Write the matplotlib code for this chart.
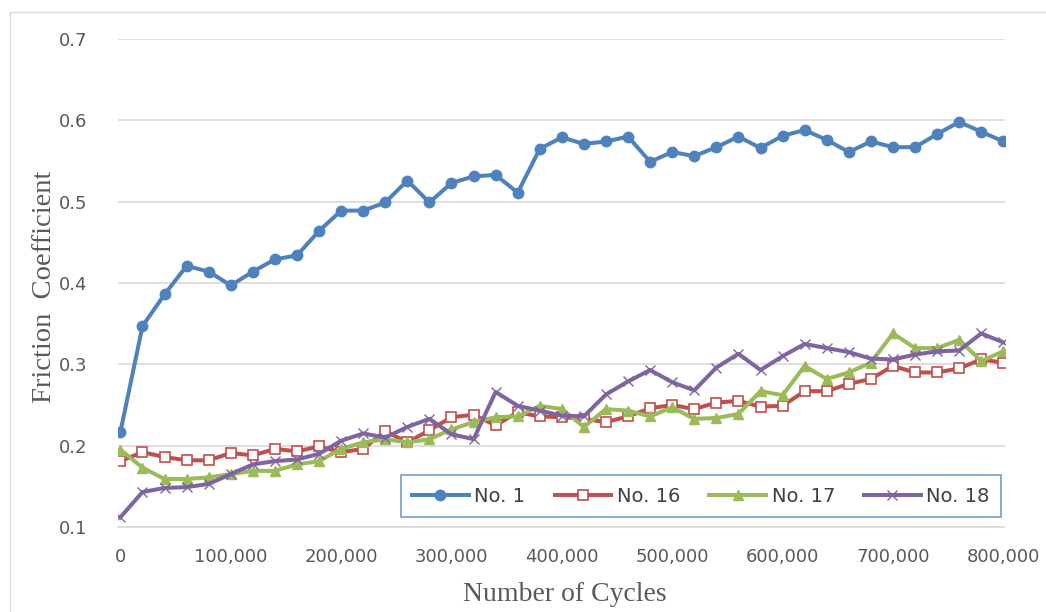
import numpy as np
import matplotlib
matplotlib.use('Agg')
import matplotlib.pyplot as plt
from matplotlib.patches import Rectangle

# Dane (co 20 000 cykli)
cycles = np.arange(0, 800001, 20000)

no1 = [0.217, 0.347, 0.386, 0.421, 0.414, 0.397, 0.414, 0.429, 0.434, 0.464,
       0.489, 0.489, 0.499, 0.526, 0.499, 0.523, 0.531, 0.533, 0.511, 0.565,
       0.579, 0.571, 0.574, 0.580, 0.549, 0.561, 0.556, 0.567, 0.580, 0.566,
       0.581, 0.588, 0.576, 0.561, 0.574, 0.567, 0.567, 0.583, 0.598, 0.586,
       0.574]
no16 = [0.181, 0.192, 0.186, 0.182, 0.182, 0.191, 0.188, 0.196, 0.193, 0.199,
        0.192, 0.196, 0.218, 0.204, 0.219, 0.235, 0.238, 0.225, 0.241, 0.236,
        0.235, 0.233, 0.229, 0.236, 0.246, 0.250, 0.245, 0.253, 0.255, 0.248,
        0.249, 0.267, 0.267, 0.276, 0.282, 0.298, 0.290, 0.290, 0.295, 0.306,
        0.302]
no17 = [0.195, 0.173, 0.159, 0.159, 0.161, 0.165, 0.169, 0.169, 0.177, 0.181,
        0.196, 0.204, 0.208, 0.204, 0.208, 0.220, 0.229, 0.235, 0.236, 0.249,
        0.245, 0.223, 0.245, 0.243, 0.236, 0.247, 0.233, 0.234, 0.239, 0.267,
        0.262, 0.298, 0.282, 0.290, 0.302, 0.338, 0.320, 0.320, 0.330, 0.304,
        0.316]
no18 = [0.112, 0.143, 0.148, 0.149, 0.153, 0.165, 0.177, 0.181, 0.183, 0.190,
        0.206, 0.215, 0.210, 0.223, 0.233, 0.214, 0.208, 0.266, 0.249, 0.243,
        0.237, 0.236, 0.263, 0.279, 0.293, 0.278, 0.268, 0.296, 0.313, 0.293,
        0.310, 0.325, 0.320, 0.315, 0.307, 0.306, 0.312, 0.316, 0.317, 0.338,
        0.327]

series_labels = ['No. 1', 'No. 16', 'No. 17', 'No. 18']
x_ticks = np.arange(0, 800001, 100000)
y_ticks = [0.1, 0.2, 0.3, 0.4, 0.5, 0.6, 0.7]

W, H = 1046, 612
fig = plt.figure(figsize=(W / 100, H / 100), dpi=100)
ax = fig.add_axes([118 / W, 1 - 527 / H, 886.5 / W, 488 / H])

grey_txt = '#595959'

# Ramka wykresu (jak w Excelu)
fig.patches.append(Rectangle((10 / W, -0.1), 1.2, 1 - 12 / H + 0.1,
                             transform=fig.transFigure, fill=False,
                             edgecolor='#D9D9D9', linewidth=1))

ax.plot(cycles, no1, color='#4F81BD', linewidth=2.9, marker='o',
        markersize=7.5, label=series_labels[0])
ax.plot(cycles, no16, color='#C0504D', linewidth=2.9, marker='s',
        markersize=7, markerfacecolor='white', markeredgewidth=1.2,
        label=series_labels[1])
ax.plot(cycles, no17, color='#9BBB59', linewidth=2.9, marker='^',
        markersize=7.5, label=series_labels[2])
ax.plot(cycles, no18, color='#8064A2', linewidth=2.9, marker='x',
        markersize=7.5, markeredgewidth=1.0, label=series_labels[3])

ax.set_xlim(-2200, 801100)
ax.set_ylim(0.1, 0.7)
ax.set_xticks(x_ticks)
ax.set_xticklabels(['{:,}'.format(v) for v in x_ticks])
ax.set_yticks(y_ticks)
ax.set_yticklabels(['{:.1f}'.format(v) for v in y_ticks])
ax.tick_params(length=0, labelsize=13, labelcolor=grey_txt)
ax.tick_params(axis='x', pad=15)
ax.tick_params(axis='y', pad=22)
ax.grid(True, axis='y', color='#D9D9D9', linewidth=1.2)
ax.set_axisbelow(True)
for side in ['left', 'right', 'top']:
    ax.spines[side].set_visible(False)
ax.spines['bottom'].set_color('#D9D9D9')
ax.spines['bottom'].set_linewidth(1.2)

fig.text(565 / W, 1 - 601 / H, 'Number of Cycles', family='Liberation Serif',
         fontsize=20, color=grey_txt, ha='center', va='baseline')
fig.text(45 / W, 1 - 287 / H, 'Friction  Coefficient', family='Liberation Serif',
         fontsize=20.5, color=grey_txt, ha='center', va='center', rotation=90)

leg = ax.legend(loc='center', bbox_to_anchor=(701 / W, 1 - 496 / H),
                bbox_transform=fig.transFigure, ncol=4, fontsize=14,
                frameon=True, fancybox=False, handlelength=2.9,
                handletextpad=0.3, columnspacing=1.5, borderpad=0.6)
leg.get_frame().set_edgecolor('#4F81BD')
leg.get_frame().set_linewidth(1.2)
for t in leg.get_texts():
    t.set_color('#404040')

fig.savefig('out.png', dpi=100)
